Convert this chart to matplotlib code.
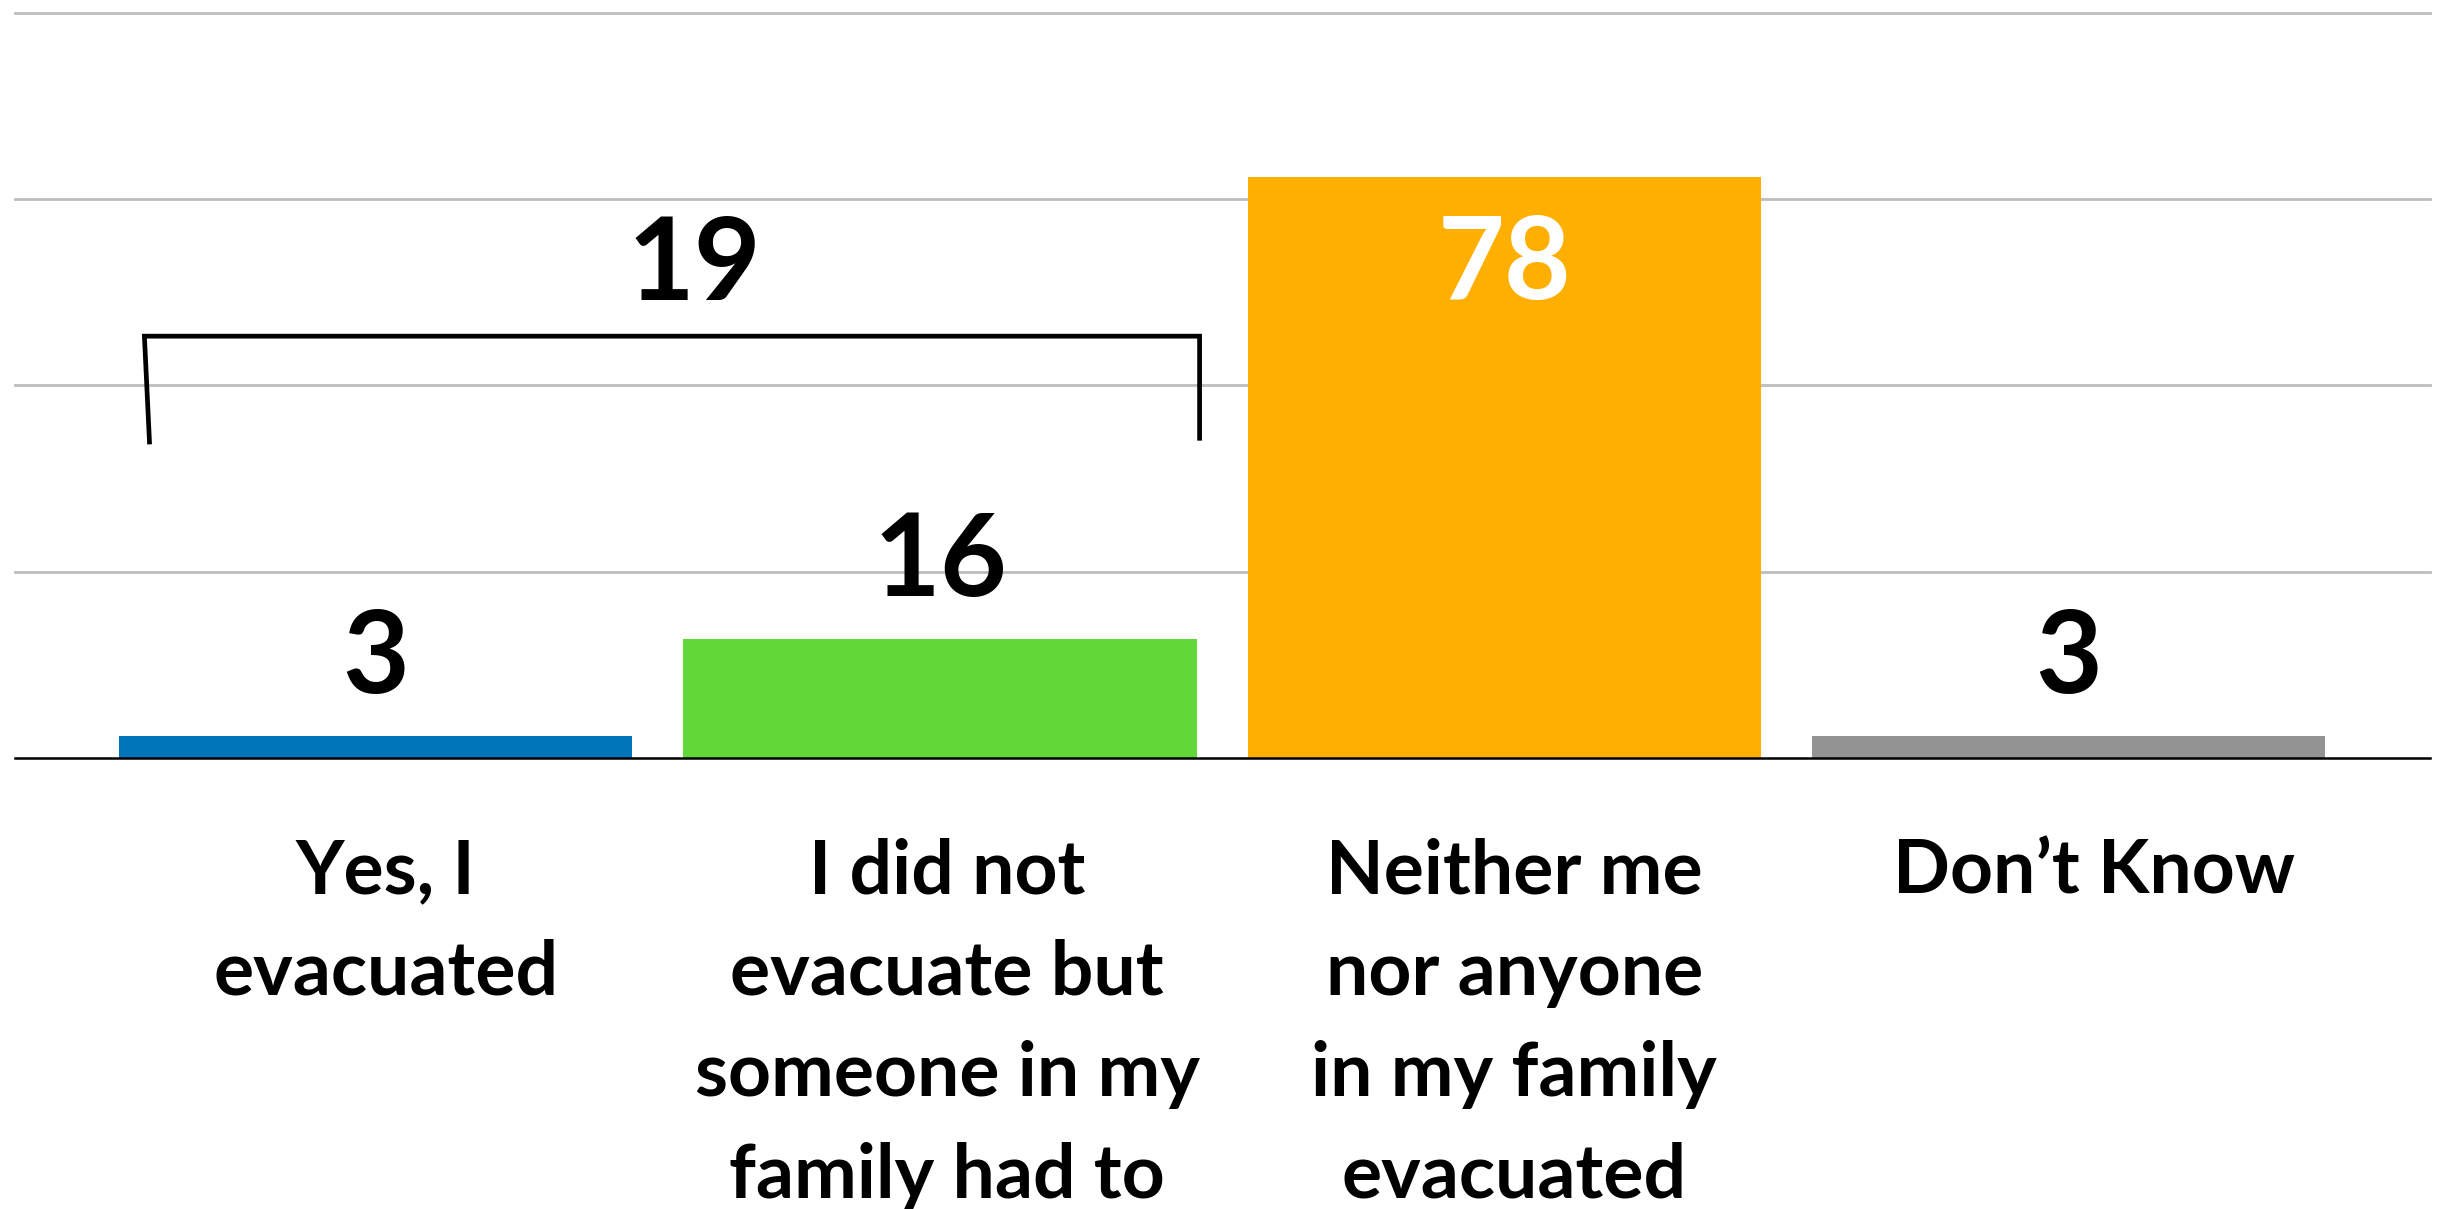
import matplotlib.pyplot as plt
from matplotlib.transforms import ScaledTranslation

plt.rcParams['font.family'] = ['Lato', 'DejaVu Sans']

# Survey answers and their shares (%)
categories = [
    "Yes, I\nevacuated",
    "I did not\nevacuate but\nsomeone in my\nfamily had to",
    "Neither me\nnor anyone\nin my family\nevacuated",
    "Don\u2019t Know",
]
values = [3, 16, 78, 3]
colors = ["#0074B8", "#62D838", "#FEAF00", "#939393"]

# the two "yes" answers are grouped under one bracket
group_total = values[0] + values[1]

fig = plt.figure(figsize=(24.37, 12.09), dpi=100)
ax = fig.add_axes([0.006, 0.373, 0.991, 0.6165])

x = list(range(len(values)))
bars = ax.bar(x, values, width=0.91, color=colors, zorder=3)

ax.set_xlim(-0.64, 3.64)
ax.set_ylim(0, 100)
ax.set_yticks([25, 50, 75, 100])
ax.yaxis.grid(True, color="#BDBDBD", linewidth=2.0)
for gl in ax.get_ygridlines():
    gl.set_clip_on(False)
ax.set_axisbelow(True)
ax.tick_params(axis="y", left=False, labelleft=False)

for side in ["top", "left", "right"]:
    ax.spines[side].set_visible(False)
ax.spines["bottom"].set_linewidth(1.8)
ax.spines["bottom"].set_color("black")
ax.spines["bottom"].set_zorder(4)

ax.set_xticks(x)
ax.set_xticklabels(categories, fontsize=54, fontweight="bold", linespacing=1.58)
ax.tick_params(axis="x", length=0, pad=57)
# nudge the category labels a little to the right
shifts = [0.10, 0.07, 0.10, 0.25]
for lbl, dx in zip(ax.get_xticklabels(), shifts):
    lbl.set_transform(lbl.get_transform() + ScaledTranslation(dx, 0, fig.dpi_scale_trans))

# value labels: above short bars, inside the tall one
for b, v in zip(bars, values):
    cx = b.get_x() + b.get_width() / 2
    if v > 50:
        ax.annotate(str(v), (cx, v), xytext=(0, -88), textcoords="offset points",
                    ha="center", va="baseline", fontsize=83, fontweight="bold",
                    color="white", zorder=5)
    else:
        ax.annotate(str(v), (cx, v), xytext=(0, 31), textcoords="offset points",
                    ha="center", va="baseline", fontsize=83, fontweight="bold",
                    color="black", zorder=5)

# bracket over the first two bars
bx = [-0.401, -0.41, 1.46, 1.46]
by = [42.4, 56.6, 56.6, 42.9]
ax.plot(bx, by, color="black", linewidth=3.4, zorder=4, clip_on=False,
        solid_joinstyle="miter")
ax.annotate(str(group_total), (0.565, 56.6), xytext=(0, 26), textcoords="offset points",
            ha="center", va="baseline", fontsize=83, fontweight="bold", color="black")

fig.savefig("out.png", dpi=100)
